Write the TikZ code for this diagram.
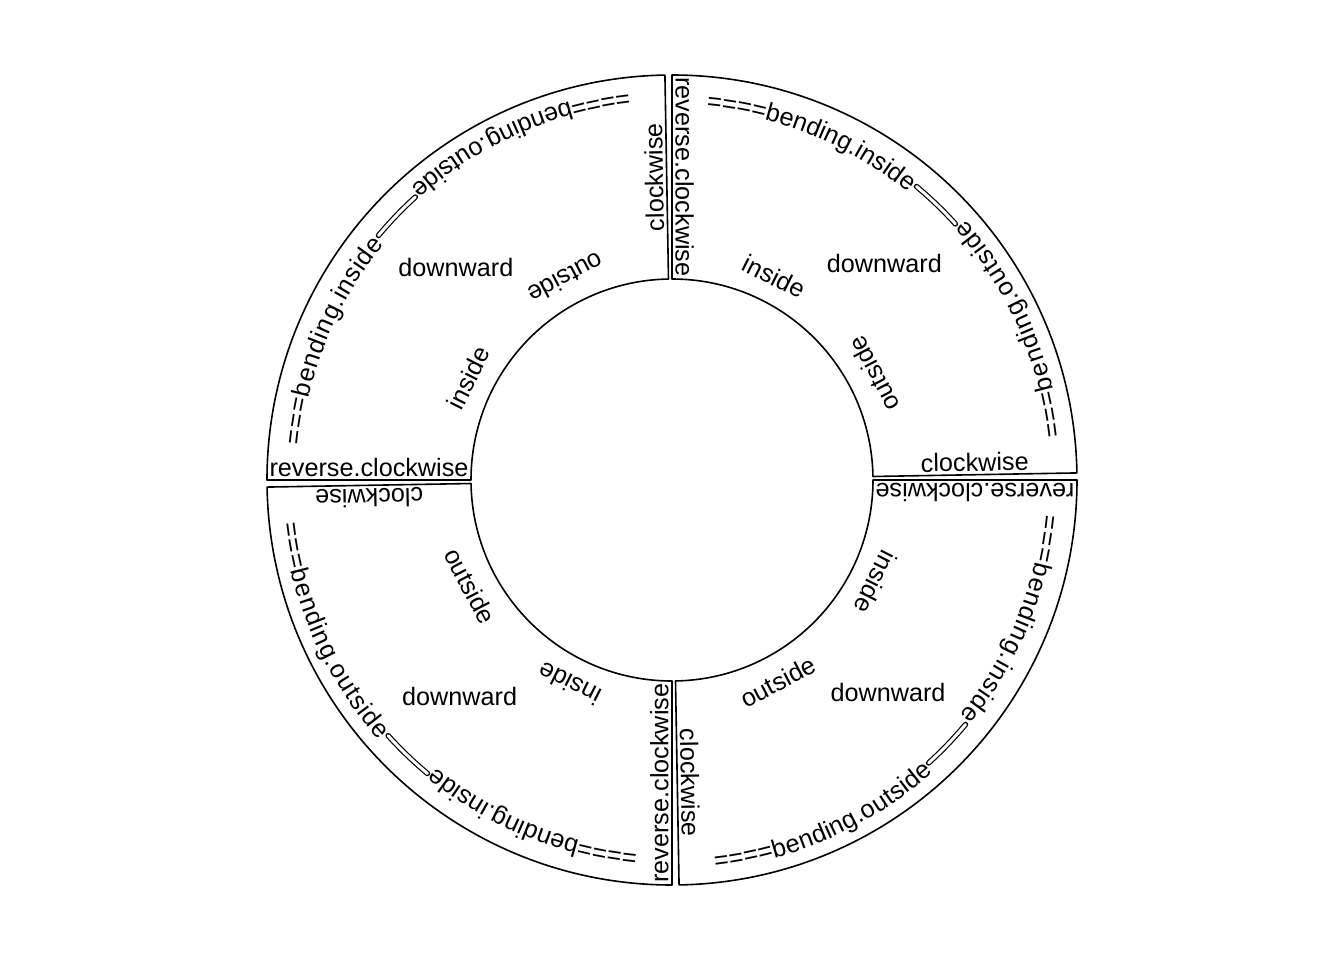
\documentclass[tikz,border=0pt]{standalone}
\usepackage{fontspec}
\setmainfont{Liberation Sans}
\usetikzlibrary{decorations.text}
\newcommand{\lblfont}{\fontsize{12.6}{15}\selectfont}

\begin{document}
\begin{tikzpicture}[x=0.5pt,y=0.5pt,
    sector/.style={draw=black,line width=0.8pt,line join=round},
    lbl/.style={font=\lblfont,inner sep=1.5pt},
    bendline/.style={draw=black,double=white,double distance=1.5pt,line width=0.6pt,line cap=round},
    bendtext/.style 2 args={decorate,decoration={text along path,text={|\lblfont|#1},raise=#2}}]
    \useasboundingbox (-672,-480) rectangle (672,480);

    % the four cells of the track
    \draw[sector] (1:201) -- (1:405) arc[start angle=1,end angle=90,radius=405] -- (90:201) arc[start angle=90,end angle=1,radius=201] -- cycle;
    \draw[sector] (91:201) -- (91:405) arc[start angle=91,end angle=180,radius=405] -- (180:201) arc[start angle=180,end angle=91,radius=201] -- cycle;
    \draw[sector] (181:201) -- (181:405) arc[start angle=181,end angle=270,radius=405] -- (270:201) arc[start angle=270,end angle=181,radius=201] -- cycle;
    \draw[sector] (271:201) -- (271:405) arc[start angle=271,end angle=360,radius=405] -- (360:201) arc[start angle=360,end angle=271,radius=201] -- cycle;

    % top right
    \node[lbl,rotate=-90,anchor=south] (tr-rev) at (90:303) {reverse.clockwise};
    \node[lbl,rotate=1,anchor=south] (tr-cw) at (1:303) {clockwise};
    \node[lbl,rotate=-26.7] (tr-in) at (63.3:228) {inside};
    \node[lbl,rotate=117.7] (tr-out) at (27.7:228) {outside};
    \node[lbl] (tr-down) at (45.5:303) {downward};
    \path[bendtext={====bending.inside}{0pt}] (84.7:372) arc[start angle=84.7,end angle=45,radius=372];
    \path[bendtext={===bending.outside}{-15.9pt}] (6.3:360) arc[start angle=6.3,end angle=46,radius=360];
    \draw[bendline] (42.1:382) arc[start angle=42.1,end angle=50.2,radius=382];

    % top left
    \node[lbl,rotate=91,anchor=south] (tl-cw) at (91:303) {clockwise};
    \node[lbl,rotate=0,anchor=south] (tl-rev) at (180:303) {reverse.clockwise};
    \node[lbl,rotate=63.3] (tl-in) at (153.3:228) {inside};
    \node[lbl,rotate=207.7] (tl-out) at (117.7:228) {outside};
    \node[lbl] (tl-down) at (135.5:303) {downward};
    \path[bendtext={===bending.inside}{12.6pt}] (174.7:347) arc[start angle=174.7,end angle=135,radius=347];
    \path[bendtext={====bending.outside}{-4.9pt}] (96.3:382) arc[start angle=96.3,end angle=136,radius=382];
    \draw[bendline] (132.2:382) arc[start angle=132.2,end angle=140.2,radius=382];

    % bottom left
    \node[lbl,rotate=90,anchor=south] (bl-rev) at (270:303) {reverse.clockwise};
    \node[lbl,rotate=181,anchor=south] (bl-cw) at (181:303) {clockwise};
    \node[lbl,rotate=153.3] (bl-in) at (243.3:228) {inside};
    \node[lbl,rotate=297.7] (bl-out) at (207.7:228) {outside};
    \node[lbl] (bl-down) at (225.5:303) {downward};
    \path[bendtext={====bending.inside}{0pt}] (264.7:372) arc[start angle=264.7,end angle=225,radius=372];
    \path[bendtext={===bending.outside}{-15.9pt}] (186.3:360) arc[start angle=186.3,end angle=226,radius=360];
    \draw[bendline] (222:382) arc[start angle=222,end angle=230.2,radius=382];

    % bottom right
    \node[lbl,rotate=180,anchor=south] (br-rev) at (0:303) {reverse.clockwise};
    \node[lbl,rotate=271,anchor=south] (br-cw) at (271:303) {clockwise};
    \node[lbl,rotate=243.3] (br-in) at (333.3:228) {inside};
    \node[lbl,rotate=27.7] (br-out) at (297.7:228) {outside};
    \node[lbl] (br-down) at (315.5:303) {downward};
    \path[bendtext={===bending.inside}{12.6pt}] (354.7:347) arc[start angle=354.7,end angle=315,radius=347];
    \path[bendtext={====bending.outside}{-4.9pt}] (276.3:382) arc[start angle=276.3,end angle=316,radius=382];
    \draw[bendline] (312.2:382) arc[start angle=312.2,end angle=320.2,radius=382];
\end{tikzpicture}
\end{document}
